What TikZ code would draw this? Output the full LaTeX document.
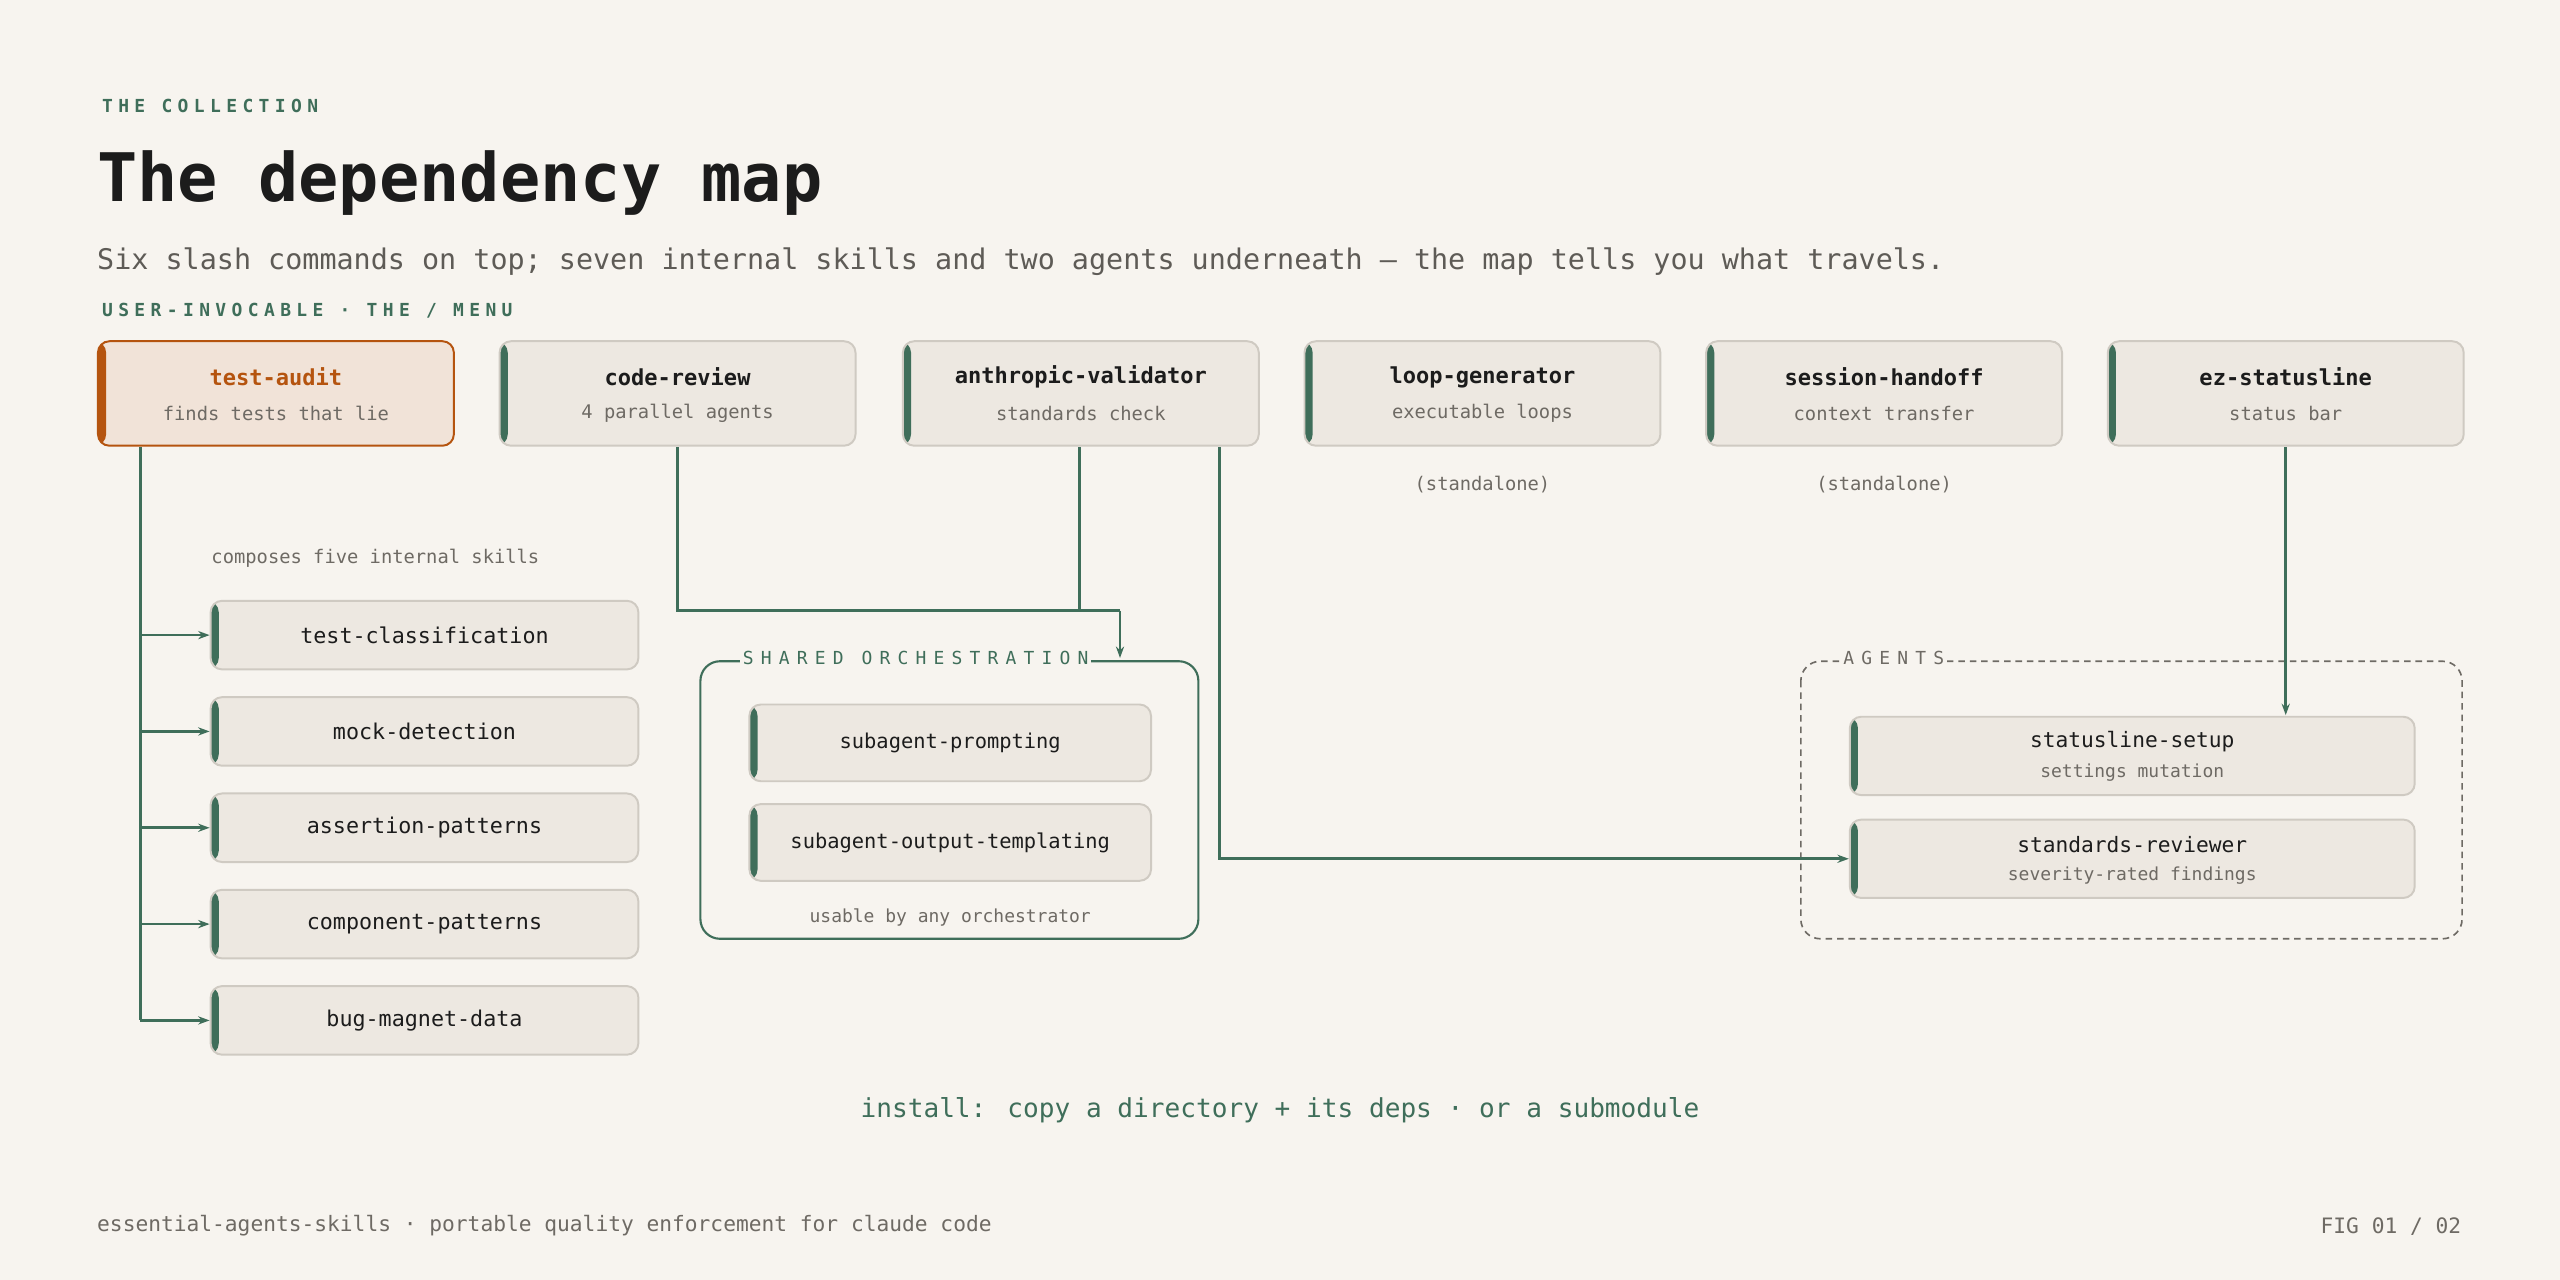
\documentclass[tikz,border=0pt]{standalone}
\usepackage{fontspec}
\setmainfont{DejaVu Sans Mono}
\newfontfamily\spaced{DejaVu Sans Mono}[LetterSpace=40]
\newfontfamily\spacedb{DejaVu Sans Mono Bold}[LetterSpace=30]
\usetikzlibrary{arrows.meta}
\definecolor{bg}{HTML}{F7F4EF}
\definecolor{nfill}{HTML}{EDE8E1}
\definecolor{nborder}{HTML}{CFCAC2}
\definecolor{grn}{HTML}{3F6E5A}
\definecolor{org}{HTML}{B5540F}
\definecolor{ofill}{HTML}{F1E3D8}
\definecolor{ink}{HTML}{1C1C1C}
\definecolor{gry}{HTML}{6E6A64}
\tikzset{
  box/.style={draw=nborder, line width=1.2pt, fill=nfill, rounded corners=7pt, inner sep=0pt,
    path picture={\fill[grn] (path picture bounding box.north west) rectangle ([xshift=5pt]path picture bounding box.south west);}},
  obox/.style={box, draw=org, fill=ofill,
    path picture={\fill[org] (path picture bounding box.north west) rectangle ([xshift=5pt]path picture bounding box.south west);}},
  top/.style={box, minimum width=218pt, minimum height=64pt},
  skill/.style={box, minimum width=262pt, minimum height=42pt},
  inner/.style={box, minimum width=246pt, minimum height=47pt},
  agent/.style={box, minimum width=346pt, minimum height=48pt},
  ttl/.style={font=\fontsize{13.5}{14}\selectfont\bfseries, text=ink},
  sub/.style={font=\fontsize{11.5}{12}\selectfont, text=gry},
  conn/.style={draw=grn, line width=1.6pt},
  arr/.style={conn, -{Stealth[length=7pt,width=5pt]}},
}
\begin{document}
\begin{tikzpicture}[x=1pt,y=-1pt]
\fill[bg] (0,0) rectangle (1568,784);
\useasboundingbox (0,0) rectangle (1568,784);

\node[anchor=west, text=grn, font=\fontsize{11}{12}\selectfont\spacedb] (h1) at (59,65) {THE COLLECTION};
\node[anchor=west, text=ink, font=\fontsize{41}{44}\selectfont\bfseries] (h2) at (56,112) {The dependency map};
\node[anchor=west, text=gry!80!ink, font=\fontsize{17.4}{19}\selectfont] (h3) at (56,160) {Six slash commands on top; seven internal skills and two agents underneath — the map tells you what travels.};
\node[anchor=west, text=grn, font=\fontsize{11}{12}\selectfont\spacedb] (h4) at (59,190) {USER-INVOCABLE · THE / MENU};

% top nodes
\node[top, obox] (ta) at (169,241) {};
\node[ttl, text=org] at (169,231) {test-audit};
\node[sub] at (169,253) {finds tests that lie};
\foreach \n/\x/\t/\s in {cr/415/code-review/4 parallel agents, av/662/anthropic-validator/standards check, lg/908/loop-generator/executable loops, sh/1154/session-handoff/context transfer, ez/1400/ez-statusline/status bar}{
  \node[top] (\n) at (\x,241) {};
  \node[ttl] at (\x,231) {\t};
  \node[sub] at (\x,253) {\s};
}
\node[sub] (sa1) at (908,297) {(standalone)};
\node[sub] (sa2) at (1154,297) {(standalone)};

% left skills
\node[sub, anchor=west] (comp) at (126,342) {composes five internal skills};
\coordinate (trunk) at (86,274);
\foreach \n/\y/\t in {s1/389/test-classification, s2/448/mock-detection, s3/507/assertion-patterns, s4/566/component-patterns, s5/625/bug-magnet-data}{
  \node[skill] (\n) at (260,\y) {};
  \node[ttl, font=\fontsize{13.3}{14}\selectfont] at (260,\y) {\t};
  \draw[arr] (86,\y) -- (\n.west);
}
\draw[conn] (86,274) -- (86,625);

% shared orchestration
\draw[grn, line width=1.3pt, rounded corners=12pt] (429,405) rectangle (734,575);
\node[fill=bg, inner sep=0pt, anchor=west, text=grn, font=\fontsize{11}{12}\selectfont\spaced] (shl) at (453,403) {\,SHARED ORCHESTRATION\,};
\node[inner] (sp) at (582,455) {};
\node[ttl, font=\fontsize{12.5}{13}\selectfont] at (582,455) {subagent-prompting};
\node[inner] (so) at (582,516) {};
\node[ttl, font=\fontsize{12.5}{13}\selectfont] at (582,516) {subagent-output-templating};
\node[sub, font=\fontsize{11}{12}\selectfont] (ub) at (582,562) {usable by any orchestrator};

% agents
\draw[gry, line width=1pt, dash pattern=on 4pt off 3pt, rounded corners=12pt] (1103,405) rectangle (1508,575);
\node[fill=bg, inner sep=0pt, anchor=west, text=gry, font=\fontsize{11}{12}\selectfont\spaced] (agl) at (1127,403) {\,AGENTS\,};
\node[agent] (ss) at (1306,463) {};
\node[ttl, font=\fontsize{13}{14}\selectfont] at (1306,454) {statusline-setup};
\node[sub, font=\fontsize{11}{12}\selectfont] at (1306,473) {settings mutation};
\node[agent] (sr) at (1306,526) {};
\node[ttl, font=\fontsize{13}{14}\selectfont] at (1306,517) {standards-reviewer};
\node[sub, font=\fontsize{11}{12}\selectfont] at (1306,536) {severity-rated findings};

% connectors
\coordinate (j1) at (415,374);
\coordinate (j2) at (686,374);
\coordinate (shtop) at (686,403);
\draw[conn] (415,274) -- (j1) -- (j2);
\draw[arr] (j2) -- (shtop);
\draw[conn] (661,274) -- (661,374);
\draw[arr] (747,274) -- (747,526) -- (sr.west);
\draw[arr] (1400,274) -- (1400,438);

% footer
\node[text=grn, font=\fontsize{16}{18}\selectfont] (inst) at (784,680) {install: copy a directory + its deps · or a submodule};
\node[anchor=west, text=gry, font=\fontsize{13}{14}\selectfont] (f1) at (56,751) {essential-agents-skills · portable quality enforcement for claude code};
\node[anchor=east, text=gry, font=\fontsize{13}{14}\selectfont] (f2) at (1511,751) {FIG 01 / 02};
\end{tikzpicture}
\end{document}
